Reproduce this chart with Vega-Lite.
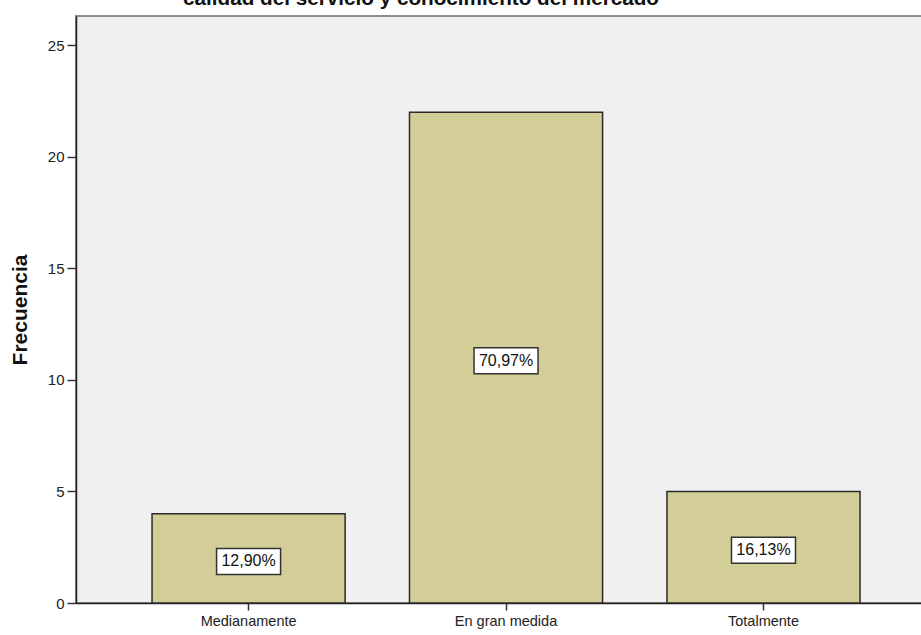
{
  "$schema": "https://vega.github.io/schema/vega-lite/v6.json",
  "width": 846,
  "height": 587,
  "autosize": {"type": "none"},
  "padding": {"left": 76, "top": 16, "right": 0, "bottom": 32},
  "background": "white",
  "config": {
    "view": {"fill": "#f0f0f0", "stroke": "#8c8c8c", "strokeWidth": 2},
    "font": "Liberation Sans"
  },
  "title": {
    "text": "calidad del servicio y conocimiento del mercado",
    "fontSize": 20.7,
    "fontWeight": "bold",
    "font": "Liberation Sans",
    "color": "#111111",
    "anchor": "middle",
    "dx": -78,
    "baseline": "alphabetic",
    "offset": 9,
    "dy": 19
  },
  "data": {
    "values": [
      {"categoria": "Medianamente", "frecuencia": 4, "etiqueta": "12,90%"},
      {"categoria": "En gran medida", "frecuencia": 22, "etiqueta": "70,97%"},
      {"categoria": "Totalmente", "frecuencia": 5, "etiqueta": "16,13%"}
    ]
  },
  "encoding": {
    "x": {
      "field": "categoria",
      "type": "nominal",
      "sort": null,
      "scale": {"paddingInner": 0.25, "paddingOuter": 0.268, "align": 0.551},
      "axis": {
        "title": null,
        "labelAngle": 0,
        "labelFontSize": 14.5,
        "labelColor": "#222222",
        "labelPadding": 4,
        "tickSize": 7,
        "tickColor": "#333333",
        "tickWidth": 1.5,
        "domainColor": "#222222",
        "domainWidth": 1.5,
        "grid": false
      }
    }
  },
  "resolve": {"scale": {"y": "independent"}},
  "layer": [
    {
      "mark": {"type": "bar", "fill": "#d3ce97", "stroke": "#2a2a2a", "strokeWidth": 1.5},
      "encoding": {
        "y": {
          "field": "frecuencia",
          "type": "quantitative",
          "scale": {"domain": [0, 26.32], "nice": false},
          "axis": {
            "title": "Frecuencia",
            "titleFontSize": 21,
            "titleFontWeight": "bold",
            "titleColor": "#111111",
            "titlePadding": 17,
            "values": [0, 5, 10, 15, 20, 25],
            "labelFontSize": 15,
            "labelColor": "#222222",
            "labelPadding": 3,
            "tickSize": 9,
            "tickColor": "#333333",
            "tickWidth": 1.5,
            "domainColor": "#222222",
            "domainWidth": 1.5,
            "grid": false
          }
        }
      }
    },
    {
      "layer": [
        {
          "mark": {
            "type": "point",
            "shape": "M-1,-0.406L1,-0.406L1,0.406L-1,0.406Z",
            "size": 4096,
            "filled": true,
            "fill": "white",
            "stroke": "#333333",
            "strokeWidth": 1.5,
            "opacity": 1,
            "yOffset": 3
          }
        },
        {
          "mark": {"type": "text", "fontSize": 16, "color": "#111111", "baseline": "middle", "yOffset": 3},
          "encoding": {"text": {"field": "etiqueta"}}
        }
      ],
      "encoding": {
        "y": {
          "field": "frecuencia",
          "type": "quantitative",
          "scale": {"domain": [0, 52.64], "nice": false},
          "axis": null
        }
      }
    }
  ]
}
